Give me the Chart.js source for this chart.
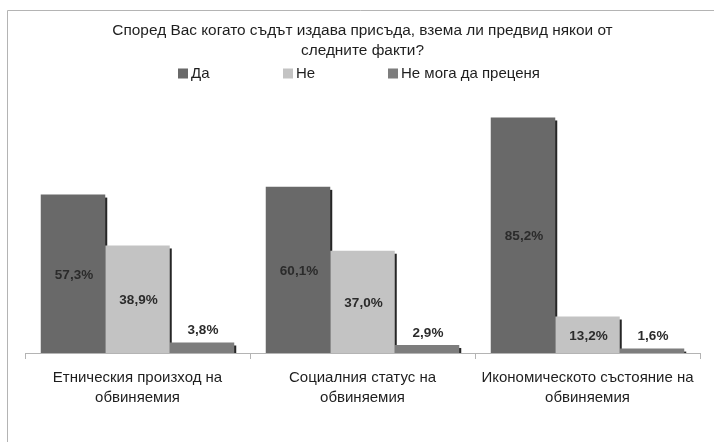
<!DOCTYPE html>
<html>
<head>
<meta charset="utf-8">
<script src="https://cdn.jsdelivr.net/npm/chart.js@4.4.1/dist/chart.umd.min.js"></script>
<style>
html,body{margin:0;padding:0;background:#fff;}
#wrap{position:absolute;left:0;top:0;width:714px;height:442px;}
</style>
</head>
<body>
<div id="wrap"><canvas id="c" width="714" height="442"></canvas></div>
<script>
const titleLines = ["Според Вас когато съдът издава присъда, взема ли предвид някои от", "следните факти?"];
const categories = [
  ["Етническия произход на", "обвиняемия"],
  ["Социалния статус на", "обвиняемия"],
  ["Икономическото състояние на", "обвиняемия"]
];
const seriesNames = ["Да", "Не", "Не мога да преценя"];
const valuesYes = [57.3, 60.1, 85.2];
const valuesNo = [38.9, 37.0, 13.2];
const valuesCant = [3.8, 2.9, 1.6];
const seriesColors = ["#696969", "#c3c3c3", "#7d7d7d"];

const FONT = "'Liberation Sans', Arial, sans-serif";

const framePlugin = {
  id: 'frame',
  beforeDraw(chart) {
    const ctx = chart.ctx;
    ctx.save();
    ctx.fillStyle = '#fff';
    ctx.fillRect(0, 0, chart.width, chart.height);
    ctx.strokeStyle = '#b4b4b4';
    ctx.lineWidth = 1;
    ctx.beginPath();
    ctx.moveTo(7.5, chart.height);
    ctx.lineTo(7.5, 10.5);
    ctx.lineTo(chart.width, 10.5);
    ctx.stroke();
    ctx.restore();
  }
};

const shadowPlugin = {
  id: 'barShadow',
  beforeDatasetsDraw(chart) {
    const ctx = chart.ctx;
    const a = chart.chartArea;
    ctx.save();
    ctx.beginPath();
    ctx.rect(a.left, a.top, a.right - a.left, a.bottom - a.top);
    ctx.clip();
    ctx.fillStyle = '#262626';
    chart.data.datasets.forEach((ds, i) => {
      const meta = chart.getDatasetMeta(i);
      meta.data.forEach(bar => {
        const p = bar.getProps(['x', 'y', 'base', 'width'], true);
        ctx.fillRect(p.x - p.width / 2 + 2, p.y + 3, p.width, p.base - p.y);
      });
    });
    ctx.restore();
  }
};

const labelPlugin = {
  id: 'valLabels',
  afterDatasetsDraw(chart) {
    const ctx = chart.ctx;
    ctx.save();
    ctx.font = "bold 13.5px " + FONT;
    ctx.fillStyle = '#2b2b2b';
    ctx.textAlign = 'center';
    ctx.textBaseline = 'middle';
    chart.data.datasets.forEach((ds, i) => {
      const meta = chart.getDatasetMeta(i);
      meta.data.forEach((bar, j) => {
        const v = ds.data[j];
        const p = bar.getProps(['x', 'y', 'base'], true);
        const txt = v.toFixed(1).replace('.', ',') + '%';
        let y;
        if (p.base - p.y < 22) y = p.y - 12;
        else y = (p.y + p.base) / 2 + 1.5;
        ctx.fillText(txt, p.x + 1, y);
      });
    });
    ctx.restore();
  }
};

const legendPlugin = {
  id: 'customLegend',
  afterDraw(chart) {
    const ctx = chart.ctx;
    ctx.save();
    ctx.font = "15px " + FONT;
    ctx.textBaseline = 'middle';
    ctx.textAlign = 'left';
    const startX = 178, step = 105, y = 73;
    chart.data.datasets.forEach((ds, i) => {
      const x = startX + i * step;
      ctx.fillStyle = ds.backgroundColor;
      ctx.fillRect(x, y - 4.5, 10, 10);
      ctx.fillStyle = '#1e1e1e';
      ctx.fillText(ds.label, x + 13, y + 0.5);
    });
    ctx.restore();
  }
};

new Chart(document.getElementById('c'), {
  type: 'bar',
  data: {
    labels: categories,
    datasets: [
      { label: seriesNames[0], data: valuesYes, backgroundColor: seriesColors[0] },
      { label: seriesNames[1], data: valuesNo, backgroundColor: seriesColors[1] },
      { label: seriesNames[2], data: valuesCant, backgroundColor: seriesColors[2] }
    ]
  },
  options: {
    responsive: false,
    animation: false,
    devicePixelRatio: 1,
    layout: { padding: { left: 25, right: 14, top: 0, bottom: 25 } },
    datasets: { bar: { categoryPercentage: 0.86, barPercentage: 1.0, borderWidth: 0 } },
    plugins: {
      legend: { display: false },
      tooltip: { enabled: false },
      title: {
        display: true,
        text: titleLines,
        color: '#1e1e1e',
        font: { family: FONT, size: 15.4, weight: 'normal', lineHeight: 1.3 },
        padding: { top: 21, bottom: 15.5 }
      }
    },
    scales: {
      x: {
        grid: { display: true, drawOnChartArea: false, drawTicks: true, tickLength: 6, color: '#b4b4b4', offset: true },
        border: { display: true, color: '#b4b4b4' },
        ticks: { color: '#1e1e1e', font: { family: FONT, size: 15, lineHeight: 1.3333 }, padding: 9, maxRotation: 0, autoSkip: false }
      },
      y: {
        display: false,
        min: 0,
        max: 100
      }
    }
  },
  plugins: [framePlugin, shadowPlugin, labelPlugin, legendPlugin]
});
</script>
</body>
</html>
